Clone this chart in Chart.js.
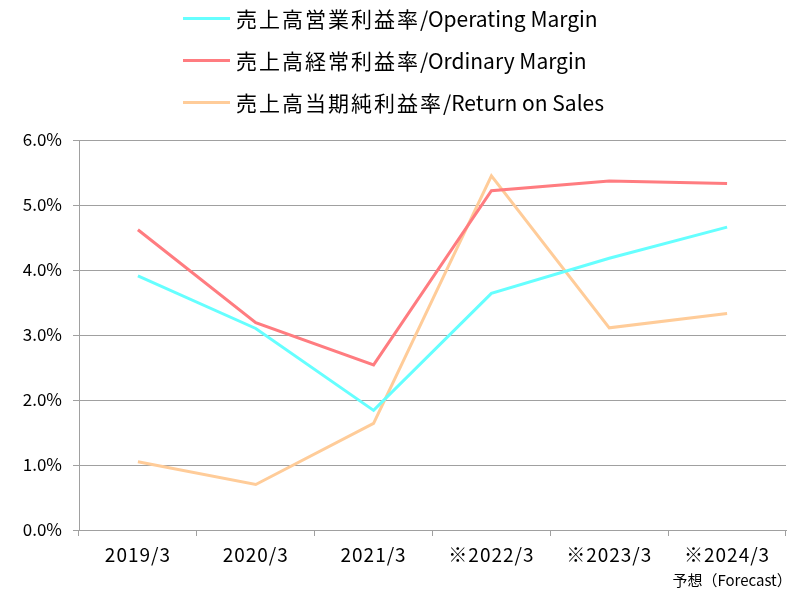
<!DOCTYPE html>
<html>
<head>
<meta charset="utf-8">
<script src="https://cdn.jsdelivr.net/npm/chart.js@4/dist/chart.umd.min.js"></script>
<style>
html,body{margin:0;padding:0;background:#fff;}
#wrap{position:relative;width:803px;height:590px;}
#legend{position:absolute;left:183px;top:0;font-family:"Noto Sans CJK JP","Noto Sans",sans-serif;font-size:21px;color:#000;}
.item{position:absolute;left:0;height:26px;white-space:nowrap;display:flex;align-items:center;}
.swatch{display:inline-block;width:47px;height:3px;margin-right:6px;}
.cjk{letter-spacing:2px;}
</style>
</head>
<body>
<div id="wrap">
<canvas id="c" width="803" height="590"></canvas>
<div id="legend"></div>
</div>
<script>
const categories = ['2019/3', '2020/3', '2021/3', '※2022/3', '※2023/3', '※2024/3'];
const forecastNote = '予想（Forecast）';
const seriesNamesJa = ['売上高営業利益率', '売上高経常利益率', '売上高当期純利益率'];
const seriesNamesEn = ['/Operating Margin', '/Ordinary Margin', '/Return on Sales'];
const operatingMargin = [3.91, 3.10, 1.84, 3.64, 4.18, 4.66];
const ordinaryMargin = [4.62, 3.19, 2.54, 5.22, 5.37, 5.33];
const returnOnSales = [1.05, 0.70, 1.64, 5.45, 3.11, 3.33];
const yTicks = [0, 1, 2, 3, 4, 5, 6];

const colors = ['#66FFFF', '#FF7C80', '#FFCC99'];
const FONT = '"Noto Sans CJK JP","Noto Sans",sans-serif';

const notePlugin = {
  id: 'note',
  afterLayout(chart) {
    const xs = chart.scales.x;
    if (!xs._patched) {
      const orig = xs.drawLabels;
      xs.drawLabels = function (a) {
        const ctx = this.ctx;
        ctx.save();
        ctx.letterSpacing = '1px';
        orig.call(this, a);
        ctx.restore();
      };
      xs._patched = true;
    }
  },
  afterDraw(chart) {
    const x = chart.scales.x;
    const ctx = chart.ctx;
    ctx.save();
    ctx.font = '15px ' + FONT;
    ctx.fillStyle = '#000';
    ctx.textAlign = 'center';
    ctx.textBaseline = 'middle';
    ctx.fillText(forecastNote, x.getPixelForValue(categories.length - 1) + 5, 580);
    ctx.restore();
  }
};

const datasets = [operatingMargin, ordinaryMargin, returnOnSales].map((d, i) => ({
  label: seriesNamesJa[i] + seriesNamesEn[i],
  data: d,
  borderColor: colors[i],
  backgroundColor: colors[i],
  borderWidth: 3,
  pointRadius: 0,
  tension: 0,
  fill: false
}));

new Chart(document.getElementById('c'), {
  type: 'line',
  data: { labels: categories, datasets },
  plugins: [notePlugin],
  options: {
    responsive: false,
    animation: false,
    layout: { padding: { top: 140, right: 17, left: 0, bottom: 0 } },
    plugins: { legend: { display: false }, tooltip: { enabled: false } },
    scales: {
      x: {
        offset: true,
        grid: { offset: true, drawOnChartArea: false, drawTicks: true, tickLength: 6, color: '#A0A0A0' },
        border: { color: '#A0A0A0' },
        ticks: { color: '#000', font: { family: FONT, size: 19 }, padding: 7, maxRotation: 0 },
        afterFit(s) { s.height = 60; }
      },
      y: {
        min: 0, max: 6,
        afterBuildTicks(s) { s.ticks = yTicks.map(v => ({ value: v })); },
        grid: { color: '#A0A0A0', tickLength: 6, lineWidth: 1 },
        border: { color: '#A0A0A0' },
        ticks: { color: '#000', font: { family: FONT, size: 17 }, padding: 11, callback: v => Number(v).toFixed(1) + '%' },
        afterFit(s) { s.width = 79; }
      }
    }
  }
});

const legend = document.getElementById('legend');
const rowY = [18, 60, 102];
seriesNamesJa.forEach((n, i) => {
  const it = document.createElement('div');
  it.className = 'item';
  it.style.top = (rowY[i] - 13) + 'px';
  const sw = document.createElement('span');
  sw.className = 'swatch';
  sw.style.background = colors[i];
  const t1 = document.createElement('span');
  t1.className = 'cjk';
  t1.textContent = n;
  const t2 = document.createElement('span');
  t2.textContent = seriesNamesEn[i];
  it.appendChild(sw); it.appendChild(t1); it.appendChild(t2);
  legend.appendChild(it);
});
</script>
</body>
</html>
